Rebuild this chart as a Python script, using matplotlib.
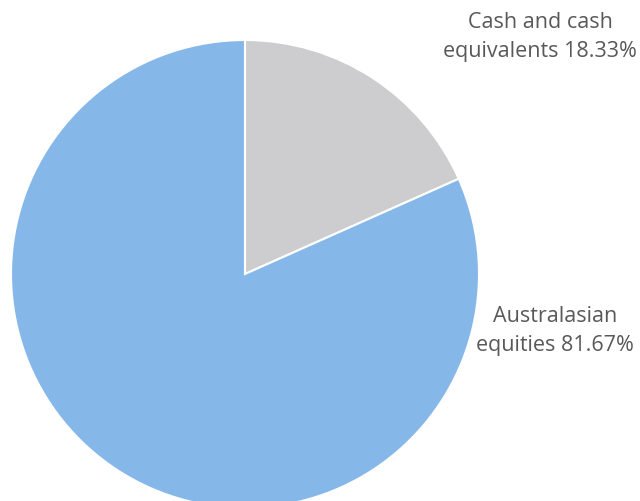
import matplotlib
matplotlib.use("Agg")
import matplotlib.pyplot as plt

# asset allocation
labels = ["Cash and cash\nequivalents 18.33%", "Australasian\nequities 81.67%"]
values = [18.33, 81.67]
colors = ["#cdcdcf", "#85b8e9"]

plt.rcParams['font.family'] = ['Open Sans', 'DejaVu Sans']

fig = plt.figure(figsize=(6.4, 5.01), dpi=100)
ax = fig.add_axes([0, 0, 1, 1])
ax.set_xlim(0, 640)
ax.set_ylim(0, 501)
ax.set_aspect('equal')
ax.axis('off')

ax.pie(values, colors=colors, startangle=90, counterclock=False,
       center=(245, 227), radius=234,
       wedgeprops=dict(edgecolor='white', linewidth=1.5))
ax.set_xlim(0, 640)
ax.set_ylim(0, 501)

# label positions (pixel coords of the figure)
ax.text(540, 464, labels[0], ha='center', va='center', fontsize=15.5,
        color='#595959', linespacing=1.45)
ax.text(555, 170, labels[1], ha='center', va='center', fontsize=15.5,
        color='#595959', linespacing=1.45)

fig.savefig("out.png", dpi=100)
